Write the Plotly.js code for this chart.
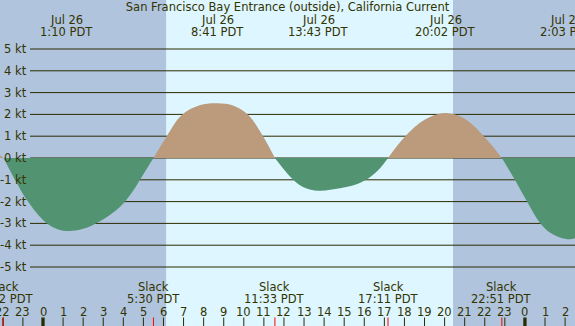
<!DOCTYPE html>
<html>
<head>
<meta charset="utf-8">
<script src="https://cdn.plot.ly/plotly-3.0.1.min.js"></script>
<style>html,body{margin:0;padding:0;background:#b0c4de;}#chart{width:575px;height:326px;}</style>
</head>
<body>
<div id="chart"></div>
<script>
// ---- data ----
const titleText = 'San Francisco Bay Entrance (outside), California Current';
// current speed (kt) at hours after midnight Jul 26 (PDT)
const curveHours = [-2.6, -1.967, -1.39, -0.80, 0, 0.55, 1.167, 2.0, 2.84, 3.83, 4.6, 4.83, 5.5,
  6.15, 6.91, 7.8, 8.683, 9.5, 10.22, 10.97, 11.55,
  12.46, 13.0, 13.717, 14.79, 15.5, 16.09, 16.7, 17.183,
  18.0, 19.0, 20.033, 21.0, 22.0, 22.85,
  23.5, 24.12, 24.75, 25.3, 26.05, 26.5, 27.2];
const curveKnots = [0.45, 0, -1.01, -1.93, -2.84, -3.2, -3.35, -3.25, -2.9, -2.25, -1.35, -1.0, 0,
  0.98, 1.97, 2.42, 2.51, 2.4, 1.97, 0.98, 0,
  -1.0, -1.35, -1.5, -1.39, -1.24, -1.0, -0.55, 0,
  0.95, 1.75, 2.06, 1.8, 0.95, 0,
  -1.0, -2.02, -2.98, -3.45, -3.72, -3.68, -3.4];
// max flood / ebb events
const peakHours = [1.167, 8.683, 13.717, 20.033, 26.05];
const peakDates = ['Jul 26', 'Jul 26', 'Jul 26', 'Jul 26', 'Jul 27'];
const peakTimes = ['1:10 PDT', '8:41 PDT', '13:43 PDT', '20:02 PDT', '2:03 PDT'];
// slack events
const slackHours = [-1.967, 5.5, 11.55, 17.183, 22.85];
const slackTimes = ['22:02 PDT', '5:30 PDT', '11:33 PDT', '17:11 PDT', '22:51 PDT'];
// hour axis
const hourTicks = [-2, -1, 0, 1, 2, 3, 4, 5, 6, 7, 8, 9, 10, 11, 12, 13, 14, 15, 16, 17, 18, 19, 20, 21, 22, 23, 24, 25, 26];
const hourLabels = ['22', '23', '0', '1', '2', '3', '4', '5', '6', '7', '8', '9', '10', '11', '12', '13', '14', '15', '16', '17', '18', '19', '20', '21', '22', '23', '0', '1', '2'];
const midnightTicks = [0, 24];
const ktLevels = [5, 4, 3, 2, 1, 0, -1, -2, -3, -4, -5];
const sunriseHour = 6.13;
const sunsetHour = 20.42;

// ---- styling ----
const W = 575, H = 326;
const xRange = [-43 / 20.08, (575 - 43) / 20.08];
const yRange = [-(326 - 158) / 21.8, 158 / 21.8];
const txt = '#333300';
const font = {family: 'DejaVu Sans', size: 11.5, color: txt};
const floodColor = '#bb9b7b';
const ebbColor = '#529472';
const dayColor = '#ddf6ff';
const nightColor = '#b0c4de';

// split curve into lobes at the zero (slack) points
const traces = [];
let segX = [], segY = [];
function flush() {
  if (segX.length > 1) {
    const s = segY.reduce((a, b) => a + b, 0);
    const c = s >= 0 ? floodColor : ebbColor;
    traces.push({x: segX, y: segY, type: 'scatter', mode: 'lines',
      line: {shape: 'spline', smoothing: 1, width: 0, color: c},
      fill: 'tozeroy', fillcolor: c, hoverinfo: 'skip', showlegend: false});
  }
}
for (let i = 0; i < curveHours.length; i++) {
  segX.push(curveHours[i]); segY.push(curveKnots[i]);
  if (curveKnots[i] === 0 && segX.length > 1) {
    flush();
    segX = [curveHours[i]]; segY = [0];
  }
}
flush();

const shapes = [];
shapes.push({type: 'rect', xref: 'x', yref: 'paper', x0: xRange[0] - 1, x1: sunriseHour, y0: 0, y1: 1, fillcolor: nightColor, line: {width: 0}, layer: 'below'});
shapes.push({type: 'rect', xref: 'x', yref: 'paper', x0: sunsetHour, x1: xRange[1] + 1, y0: 0, y1: 1, fillcolor: nightColor, line: {width: 0}, layer: 'below'});
ktLevels.forEach(k => shapes.push({type: 'line', xref: 'paper', yref: 'y', x0: 30 / W, x1: 1, y0: k, y1: k, line: {color: '#2b2b00', width: 1}, layer: 'below'}));
const tickTop = 8.5 / H;
hourTicks.forEach(h => shapes.push({type: 'line', xref: 'x', yref: 'paper', x0: h, x1: h, y0: 0, y1: tickTop,
  line: {color: '#2b2b00', width: midnightTicks.includes(h) ? 3.3 : 1}}));
slackHours.forEach(h => shapes.push({type: 'line', xref: 'x', yref: 'paper', x0: h, x1: h, y0: 0, y1: tickTop, line: {color: '#ff0000', width: 1}}));

const ann = [];
const py = y => (H - y) / H;
ktLevels.forEach(k => ann.push({xref: 'paper', yref: 'y', x: 28.5 / W, y: k, xanchor: 'right', yanchor: 'middle', text: k + ' kt', showarrow: false, font: font}));
peakHours.forEach((h, i) => {
  ann.push({xref: 'x', yref: 'paper', x: h, y: py(20), xanchor: 'center', yanchor: 'middle', text: peakDates[i], showarrow: false, font: font});
  ann.push({xref: 'x', yref: 'paper', x: h, y: py(32), xanchor: 'center', yanchor: 'middle', text: peakTimes[i], showarrow: false, font: font});
});
slackHours.forEach((h, i) => {
  ann.push({xref: 'x', yref: 'paper', x: h, y: py(286.7), xanchor: 'center', yanchor: 'middle', text: 'Slack', showarrow: false, font: font});
  ann.push({xref: 'x', yref: 'paper', x: h, y: py(299.3), xanchor: 'center', yanchor: 'middle', text: slackTimes[i], showarrow: false, font: font});
});
hourTicks.forEach((h, i) => ann.push({xref: 'x', yref: 'paper', x: h, y: py(311.7), xanchor: 'center', yanchor: 'middle', text: hourLabels[i], showarrow: false, font: font}));

const layout = {
  width: W, height: H,
  margin: {l: 0, r: 0, t: 0, b: 0, pad: 0},
  paper_bgcolor: dayColor, plot_bgcolor: dayColor,
  title: {text: titleText, x: 0.5, xanchor: 'center', y: py(7.3), yanchor: 'middle', yref: 'container', font: font},
  xaxis: {range: xRange, showgrid: false, zeroline: false, showticklabels: false, ticks: '', showline: false, fixedrange: true},
  yaxis: {range: yRange, showgrid: false, zeroline: false, showticklabels: false, ticks: '', showline: false, fixedrange: true},
  shapes: shapes, annotations: ann, showlegend: false
};
Plotly.newPlot('chart', traces, layout, {displayModeBar: false, staticPlot: true});
</script>
</body>
</html>
